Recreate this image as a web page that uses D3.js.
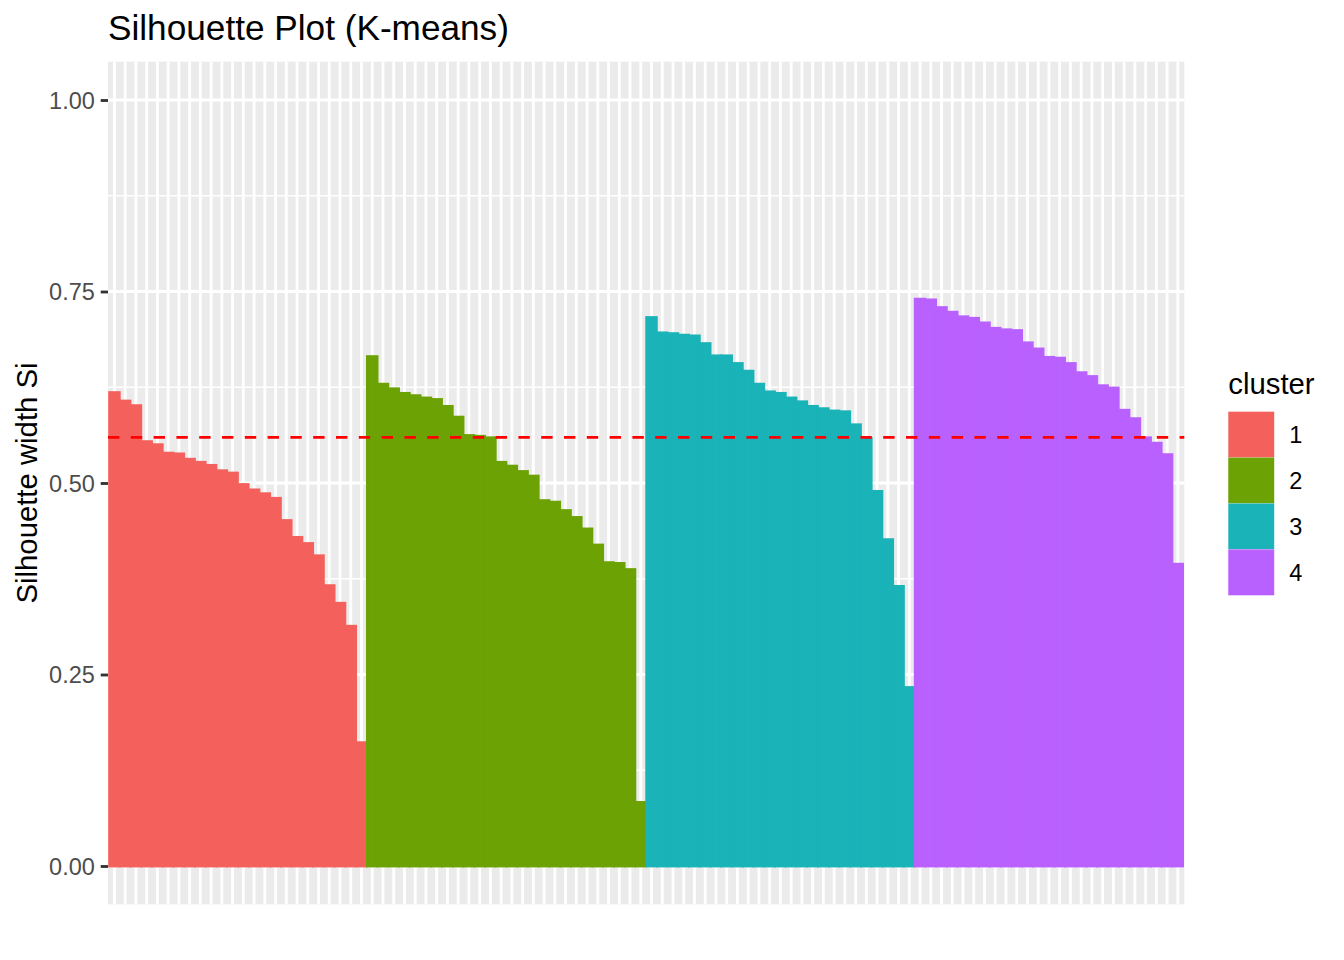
<!DOCTYPE html>
<html>
<head>
<meta charset="utf-8">
<script src="https://cdn.jsdelivr.net/npm/d3@7/dist/d3.min.js"></script>
<style>
    body { margin: 0; background: #fff; }
    text { font-family: "Liberation Sans", Arial, Helvetica, sans-serif; }
</style>
</head>
<body>
<div id="chart"></div>
<script>
// silhouette widths per cluster, sorted as in the plot
const cluster1 = [0.618, 0.607, 0.601, 0.554, 0.550, 0.539, 0.538, 0.531, 0.527, 0.523, 0.516, 0.513,
    0.498, 0.491, 0.486, 0.480, 0.451, 0.429, 0.421, 0.405, 0.366, 0.343, 0.313, 0.161];
const cluster2 = [0.665, 0.629, 0.623, 0.617, 0.614, 0.611, 0.609, 0.600, 0.586, 0.562, 0.561, 0.559,
    0.527, 0.522, 0.515, 0.509, 0.477, 0.475, 0.464, 0.455, 0.440, 0.419, 0.396, 0.395, 0.387, 0.083];
const cluster3 = [0.716, 0.696, 0.695, 0.693, 0.692, 0.682, 0.666, 0.666, 0.656, 0.646, 0.629, 0.619,
    0.617, 0.611, 0.606, 0.600, 0.597, 0.594, 0.593, 0.576, 0.558, 0.489, 0.426, 0.365, 0.233];
const cluster4 = [0.740, 0.739, 0.729, 0.723, 0.717, 0.715, 0.709, 0.702, 0.700, 0.699, 0.683, 0.675,
    0.664, 0.663, 0.656, 0.644, 0.639, 0.627, 0.624, 0.595, 0.584, 0.559, 0.552, 0.537, 0.394];

const clusterNames = ['1', '2', '3', '4'];
const clusterColors = ['#F4615C', '#6CA204', '#19B3B8', '#B961FF'];
const yTicks = [0, 0.25, 0.5, 0.75, 1];
const yMinorTicks = [0.125, 0.375, 0.625, 0.875];

const title = 'Silhouette Plot (K-means)';
const yLabel = 'Silhouette width Si';
const legendTitle = 'cluster';

function getDimensions() {
    return {
        width: 1344,
        height: 960,
        margins: { top: 61.7, bottom: 55.7, left: 108, right: 159.7 }
    };
}

function buildData() {
    const rows = [];
    [cluster1, cluster2, cluster3, cluster4].forEach((values, i) => {
        values.forEach(v => rows.push({ id: rows.length, cluster: clusterNames[i], value: v }));
    });
    return rows;
}

function layout(dims) {
    const svg = d3.select('#chart')
        .append('svg')
        .attr('width', dims.width)
        .attr('height', dims.height);

    svg.append('rect')
        .attr('width', dims.width)
        .attr('height', dims.height)
        .attr('fill', '#fff');

    const pw = dims.width - dims.margins.left - dims.margins.right;
    const ph = dims.height - dims.margins.top - dims.margins.bottom;

    svg.append('clipPath')
        .attr('id', 'panel-clip')
        .append('rect')
        .attr('width', pw)
        .attr('height', ph);

    const panel = svg.append('g')
        .attr('transform', `translate(${dims.margins.left},${dims.margins.top})`);

    return { svg, panel, pw, ph };
}

function drawChart() {
    const dims = getDimensions();
    const data = buildData();
    const c = layout(dims);

    //scales
    const x = d3.scalePoint()
        .domain(data.map(d => d.id))
        .range([0, c.pw])
        .padding(0.6);
    const step = x.step();
    const y = d3.scaleLinear()
        .domain([-0.05, 1.05])
        .range([c.ph, 0]);
    const color = d3.scaleOrdinal()
        .domain(clusterNames)
        .range(clusterColors);

    //panel background
    c.panel.append('rect')
        .attr('width', c.pw)
        .attr('height', c.ph)
        .attr('fill', '#EBEBEB');

    //grid lines
    c.panel.selectAll('.minor-y')
        .data(yMinorTicks)
        .join('line')
        .attr('x1', 0).attr('x2', c.pw)
        .attr('y1', d => y(d)).attr('y2', d => y(d))
        .attr('stroke', '#fff')
        .attr('stroke-width', 1.42);
    c.panel.selectAll('.major-y')
        .data(yTicks)
        .join('line')
        .attr('x1', 0).attr('x2', c.pw)
        .attr('y1', d => y(d)).attr('y2', d => y(d))
        .attr('stroke', '#fff')
        .attr('stroke-width', 2.84);
    c.panel.selectAll('.major-x')
        .data(data)
        .join('line')
        .attr('x1', d => x(d.id)).attr('x2', d => x(d.id))
        .attr('y1', 0).attr('y2', c.ph)
        .attr('stroke', '#fff')
        .attr('stroke-width', 2.84);

    //bars
    c.panel.append('g')
        .attr('clip-path', 'url(#panel-clip)')
        .selectAll('rect')
        .data(data)
        .join('rect')
        .attr('x', d => x(d.id) - step * 0.45)
        .attr('width', step * 0.9)
        .attr('y', d => y(d.value))
        .attr('height', d => y(0) - y(d.value))
        .attr('fill', d => color(d.cluster))
        .attr('stroke', d => color(d.cluster))
        .attr('stroke-width', 2.84);

    //mean line
    const mean = d3.mean(data, d => d.value);
    c.panel.append('line')
        .attr('x1', 0).attr('x2', c.pw)
        .attr('y1', y(mean)).attr('y2', y(mean))
        .attr('stroke', '#FF0000')
        .attr('stroke-width', 2.84)
        .attr('stroke-dasharray', '11.4 11.4');

    //y axis
    const axis = c.panel.append('g')
        .call(d3.axisLeft(y)
            .tickValues(yTicks)
            .tickSize(7.3)
            .tickPadding(5.9)
            .tickFormat(d3.format('.2f')));
    axis.select('.domain').remove();
    axis.selectAll('.tick line')
        .attr('stroke', '#333333')
        .attr('stroke-width', 2.84);
    axis.selectAll('.tick text')
        .attr('fill', '#4D4D4D')
        .attr('font-size', 23.5)
        .attr('dy', '0.35em')
        .style('font-family', '"Liberation Sans", Arial, sans-serif');

    //y label
    c.svg.append('text')
        .attr('transform', `translate(37,${dims.margins.top + c.ph / 2}) rotate(-90)`)
        .attr('text-anchor', 'middle')
        .attr('font-size', 29.3)
        .attr('fill', '#000')
        .text(yLabel);

    //title
    c.svg.append('text')
        .attr('x', dims.margins.left)
        .attr('y', 40)
        .attr('font-size', 35.2)
        .attr('fill', '#000')
        .text(title);

    //legend
    const legend = c.svg.append('g')
        .attr('transform', 'translate(1228.3,0)');
    legend.append('text')
        .attr('x', 0)
        .attr('y', 394)
        .attr('font-size', 29.3)
        .attr('fill', '#000')
        .text(legendTitle);
    const keys = legend.selectAll('.key')
        .data(clusterNames)
        .join('g')
        .attr('transform', (d, i) => `translate(0,${411.7 + i * 45.9})`);
    keys.append('rect')
        .attr('width', 45.9)
        .attr('height', 45.9)
        .attr('fill', '#F2F2F2');
    keys.append('rect')
        .attr('x', 0.7).attr('y', 0.7)
        .attr('width', 44.5)
        .attr('height', 44.5)
        .attr('fill', d => color(d))
        .attr('stroke', d => color(d))
        .attr('stroke-width', 1.4);
    keys.append('text')
        .attr('x', 61)
        .attr('y', 23)
        .attr('dy', '0.35em')
        .attr('font-size', 23.5)
        .attr('fill', '#000')
        .text(d => d);
}

drawChart();
</script>
</body>
</html>
